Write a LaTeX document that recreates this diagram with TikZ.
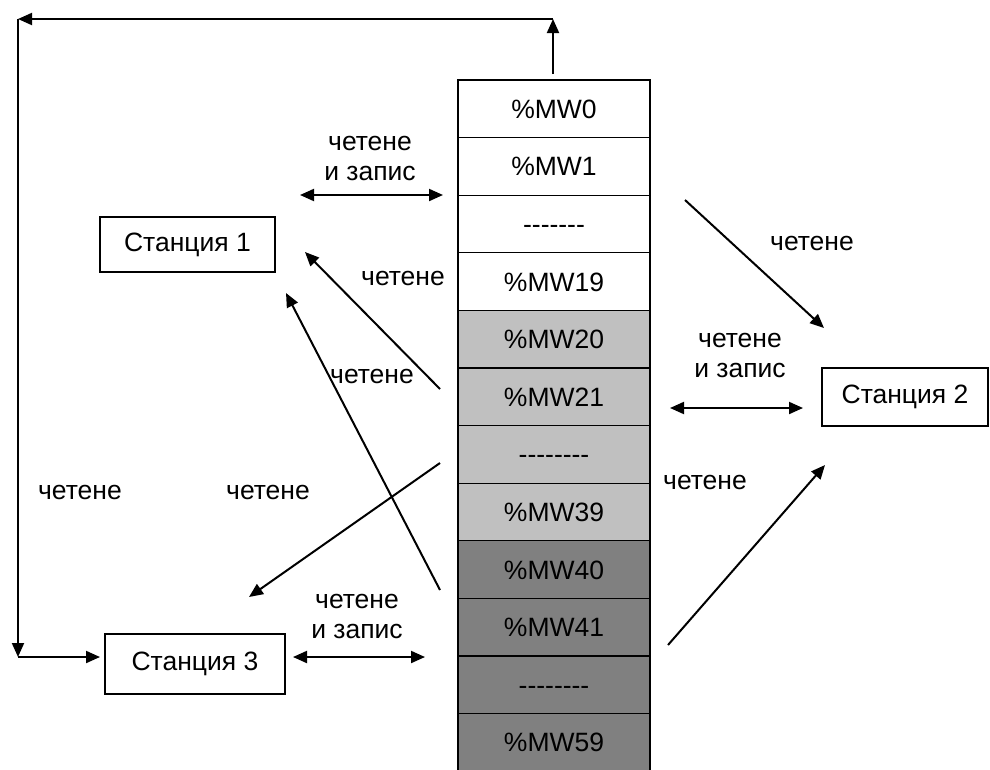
\documentclass[tikz,border=0pt]{standalone}
\usepackage{fontspec}
\setmainfont{Liberation Sans}[Ligatures=TeXOff]
\usetikzlibrary{arrows.meta}
\definecolor{lightcell}{RGB}{192,192,192}
\definecolor{darkcell}{RGB}{128,128,128}
\begin{document}
\begin{tikzpicture}[x=1pt,y=-1pt,
  txt/.style={font=\fontsize{26.5}{30}\selectfont},
  cell/.style={txt,draw,line width=1.2pt,minimum width=192pt,minimum height=57.6pt,inner sep=0pt,text height=19pt,text depth=0pt,anchor=center},
  station/.style={txt,draw,line width=1.2pt,inner sep=0pt,anchor=center},
  lbl/.style={txt,align=center,inner sep=0pt},
  arr/.style={line width=2pt,-{Triangle[length=14pt,width=12pt]}},
  darr/.style={line width=2pt,{Triangle[length=14pt,width=12pt]}-{Triangle[length=14pt,width=12pt]}}
]
\useasboundingbox (0,0) rectangle (990,769);

% memory column
\foreach \i/\t/\c in {0/\%MW0/white,1/\%MW1/white,2/-------/white,3/\%MW19/white,
  4/\%MW20/lightcell,5/\%MW21/lightcell,6/--------/lightcell,7/\%MW39/lightcell,
  8/\%MW40/darkcell,9/\%MW41/darkcell,10/--------/darkcell,11/\%MW59/darkcell}
  \node[cell,fill=\c] (m\i) at (554,{80+57.6*(\i+0.5)}) {\t};

% stations
\node[station,minimum width=175pt,minimum height=55pt] (s1) at (187.5,244.5) {Станция 1};
\node[station,minimum width=166pt,minimum height=58pt] (s2) at (905,397) {Станция 2};
\node[station,minimum width=180pt,minimum height=60pt] (s3) at (195,664) {Станция 3};

% coordinates for connector ends
\coordinate (c0) at (553,74);
\coordinate (c1) at (553,19);
\coordinate (c2) at (18,19);
\coordinate (c3) at (18,657);
\coordinate (c4) at (100,657);

\coordinate (a1s) at (300,195);
\coordinate (a1e) at (443,195);
\coordinate (b1s) at (440,389);
\coordinate (b1e) at (305,252);
\coordinate (b2s) at (440,590);
\coordinate (b2e) at (286,293);
\coordinate (b3s) at (440,463);
\coordinate (b3e) at (249,597);
\coordinate (b4s) at (685,200);
\coordinate (b4e) at (824,328);
\coordinate (b5s) at (668,645);
\coordinate (b5e) at (825,465);
\coordinate (d2s) at (670,408);
\coordinate (d2e) at (803,408);
\coordinate (d3s) at (293,657);
\coordinate (d3e) at (425,657);

% loop from %MW0 to station 3
\draw[arr] (c0) -- (c1);
\draw[arr] (c1) -- (c2);
\draw[arr] (c2) -- (c3);
\draw[arr] (c3) -- (c4);

% read/write arrows
\draw[darr] (a1s) -- (a1e);
\draw[darr] (d2s) -- (d2e);
\draw[darr] (d3s) -- (d3e);

% read arrows
\draw[arr] (b1s) -- (b1e);
\draw[arr] (b2s) -- (b2e);
\draw[arr] (b3s) -- (b3e);
\draw[arr] (b4s) -- (b4e);
\draw[arr] (b5s) -- (b5e);

% labels
\node[lbl] (l1) at (370,158) {четене\\и запис};
\node[lbl] (l2) at (403,278) {четене};
\node[lbl] (l3) at (372,376) {четене};
\node[lbl] (l4) at (80,492) {четене};
\node[lbl] (l5) at (268,492) {четене};
\node[lbl] (l6) at (357,616) {четене\\и запис};
\node[lbl] (l7) at (740,355) {четене\\и запис};
\node[lbl] (l8) at (812,243) {четене};
\node[lbl] (l9) at (705,482) {четене};
\end{tikzpicture}
\end{document}
